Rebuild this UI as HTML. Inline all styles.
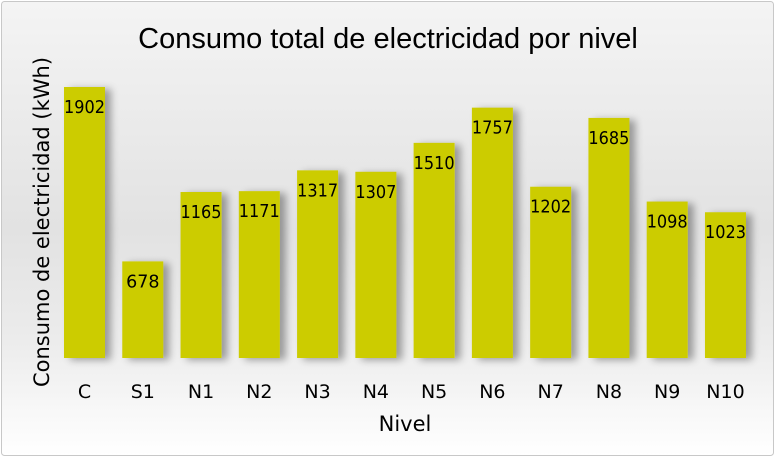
<!DOCTYPE html>
<html><head><meta charset="utf-8"><style>
body{margin:0;background:#fff}
svg{display:block;font-family:"DejaVu Sans","Liberation Sans",sans-serif}
</style></head><body>
<svg id="c" width="780" height="459" viewBox="0 0 780 459">
<defs>
<linearGradient id="bg" x1="0" y1="0" x2="0" y2="1">
<stop offset="0" stop-color="#f4f4f4"/><stop offset="0.5" stop-color="#e2e2e2"/><stop offset="0.75" stop-color="#ececec"/><stop offset="1" stop-color="#ffffff"/>
</linearGradient>
<filter id="sh" x="-20%" y="-10%" width="160%" height="130%"><feGaussianBlur in="SourceAlpha" stdDeviation="4"/><feOffset dx="6" dy="2"/><feComponentTransfer><feFuncA type="linear" slope="0.35"/></feComponentTransfer><feMerge><feMergeNode/><feMergeNode in="SourceGraphic"/></feMerge></filter>
</defs>
<rect x="1.5" y="1.5" width="772" height="454" rx="3" fill="url(#bg)" stroke="#c8c8c8"/>
<text x="388" y="48" text-anchor="middle" font-size="29" fill="#000" font-family="Liberation Sans, sans-serif">Consumo total de electricidad por nivel</text>
<text transform="translate(49,222) rotate(-90)" text-anchor="middle" font-size="21" fill="#000">Consumo de electricidad (kWh)</text>
<text x="405" y="431" text-anchor="middle" font-size="21" fill="#000">Nivel</text>
<g id="bars"></g>
</svg>
<script>
const categories=["C","S1","N1","N2","N3","N4","N5","N6","N7","N8","N9","N10"];
const values=[1902,678,1165,1171,1317,1307,1510,1757,1202,1685,1098,1023];
const base=358, scale=271/1902, x0=64, step=58.27, bw=41;
const y=v=>base-v*scale, x=i=>x0+i*step;
const g=document.getElementById('bars'), NS="http://www.w3.org/2000/svg";
categories.forEach((c,i)=>{
  const r=document.createElementNS(NS,'rect');
  
  
  r.setAttribute('x',x(i));r.setAttribute('y',y(values[i]));r.setAttribute('width',bw);r.setAttribute('height',base-y(values[i]));
  r.setAttribute('fill','#cccc00');r.setAttribute('filter','url(#sh)');
  g.appendChild(r);
  const t=document.createElementNS(NS,'text');
  
  
  t.setAttribute('x',x(i)+bw/2);t.setAttribute('y',y(values[i])+26);t.setAttribute('text-anchor','middle');t.setAttribute('font-size','17.5');t.setAttribute('textLength','41');t.setAttribute('lengthAdjust','spacingAndGlyphs');
  if(String(values[i]).length<4){t.removeAttribute('textLength');t.removeAttribute('lengthAdjust');}
  t.textContent=values[i];g.appendChild(t);
  const l=document.createElementNS(NS,'text');
  
  
  l.setAttribute('x',x(i)+bw/2);l.setAttribute('y',398);l.setAttribute('text-anchor','middle');l.setAttribute('font-size','19');
  l.textContent=c;g.appendChild(l);
});
</script>
</body></html>
